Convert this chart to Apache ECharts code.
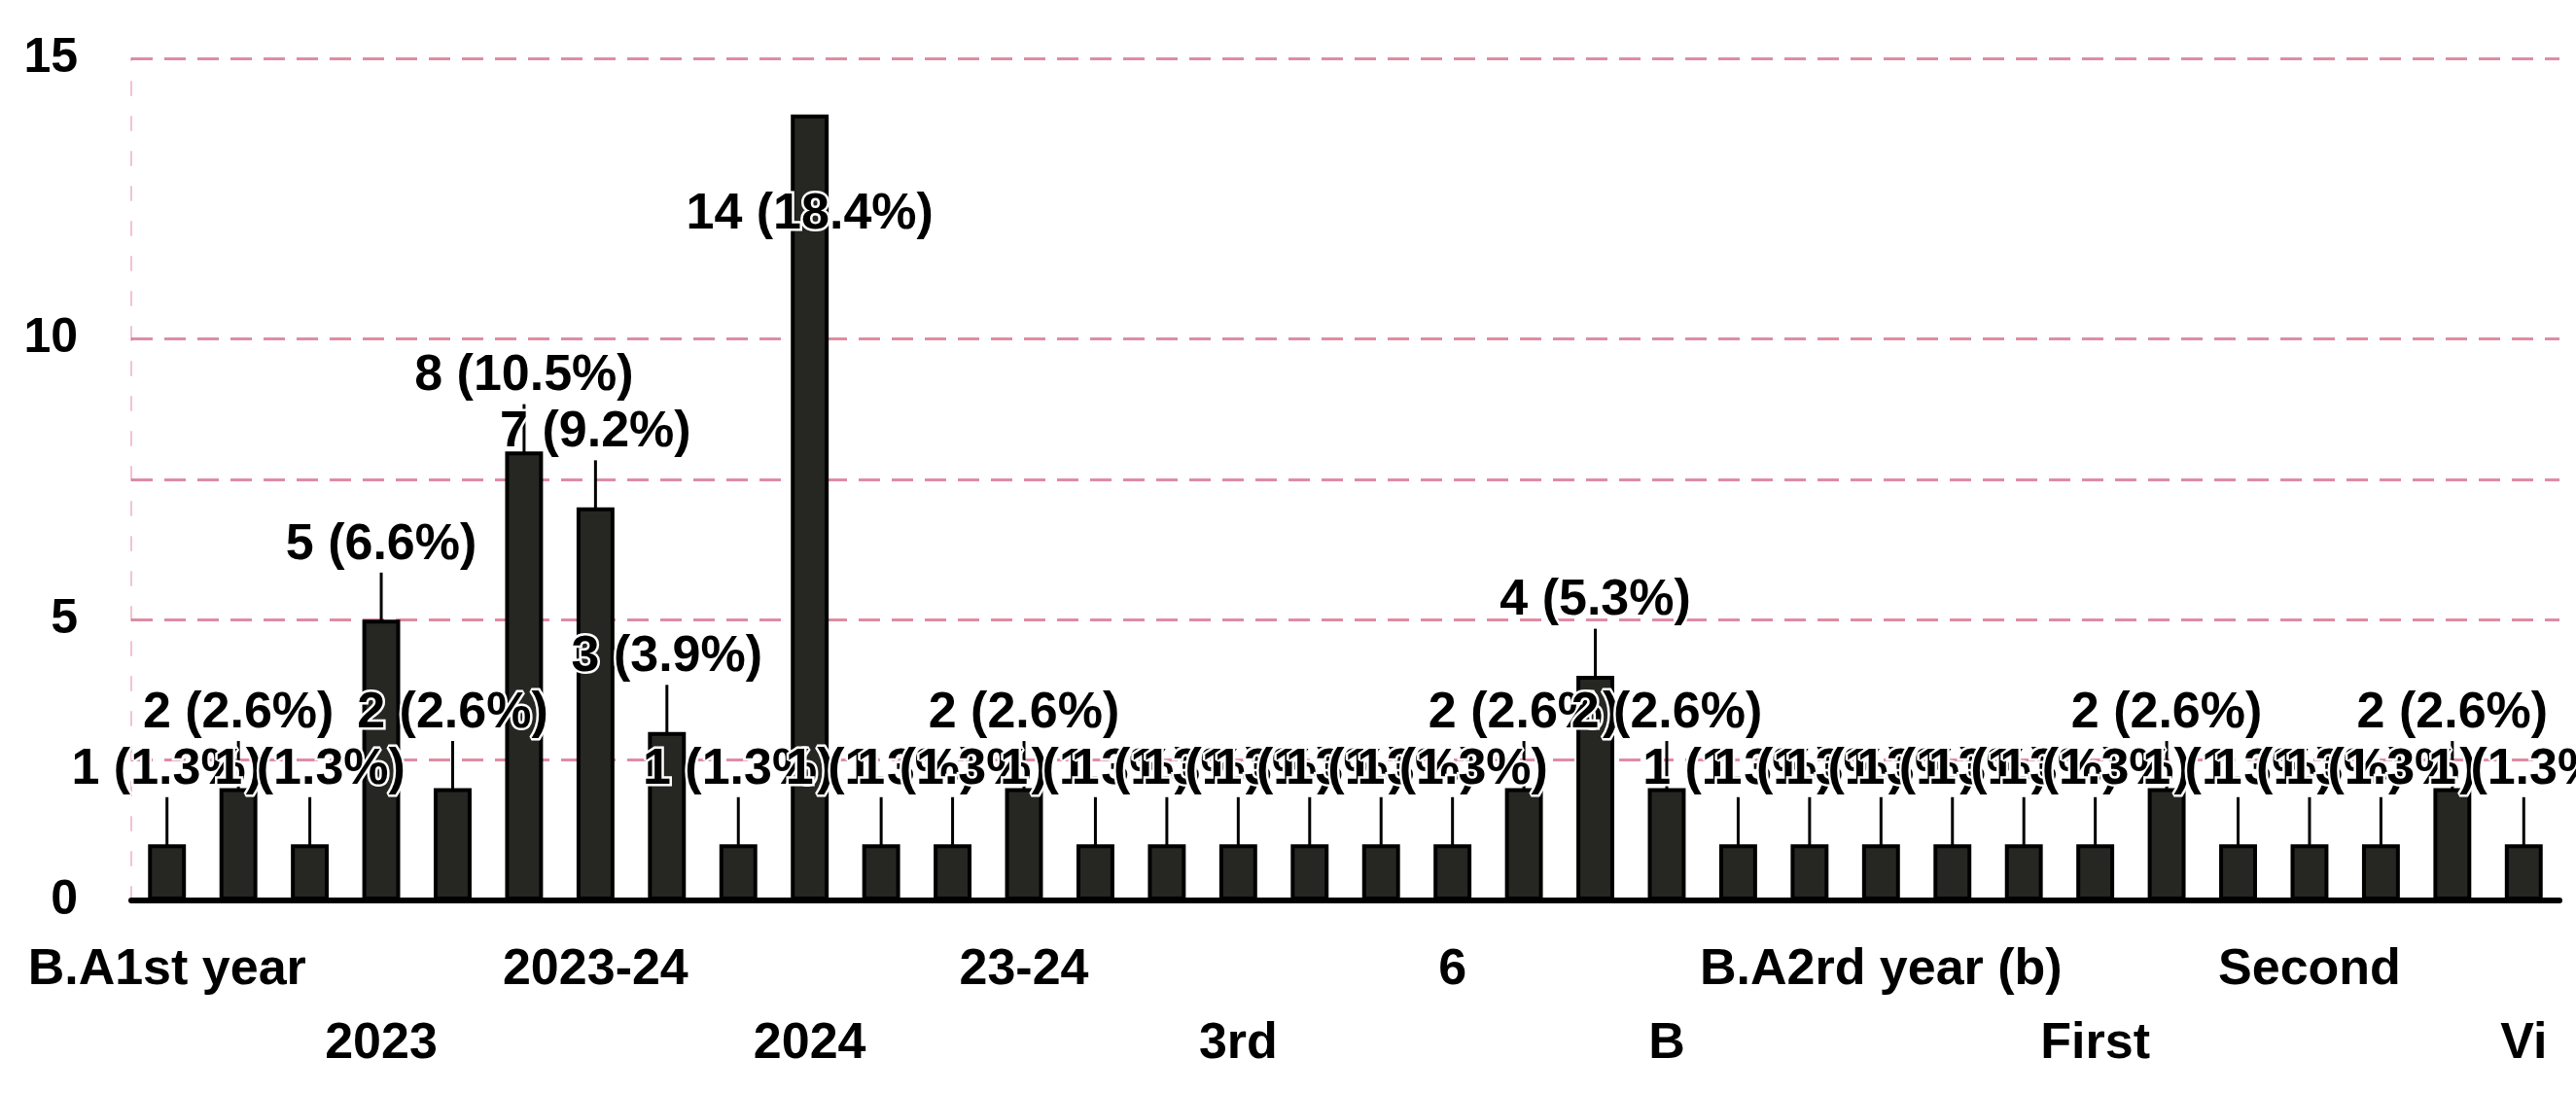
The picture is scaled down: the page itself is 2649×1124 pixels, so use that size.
<!DOCTYPE html>
<html>
<head>
<meta charset="utf-8">
<script src="https://cdn.jsdelivr.net/npm/echarts@6/dist/echarts.min.js"></script>
<style>
html,body{margin:0;padding:0;background:#ffffff;}
#chart{width:2649px;height:1124px;}
</style>
</head>
<body>
<div id="chart"></div>
<script>
// Category names (only every third one is visible on the axis)
const categories = [
  "B.A1st year", "Group 2", "Group 3", "2023", "Group 5", "Group 6",
  "2023-24", "Group 8", "Group 9", "2024", "Group 11", "Group 12",
  "23-24", "Group 14", "Group 15", "3rd", "Group 17", "Group 18",
  "6", "Group 20", "Group 21", "B", "Group 23", "Group 24",
  "B.A2rd year (b)", "Group 26", "Group 27", "First", "Group 29", "Group 30",
  "Second", "Group 32", "Group 33", "Vi"
];
// Counts per category
const counts = [
  1, 2, 1, 5, 2, 8, 7, 3, 1, 14, 1, 1, 2, 1, 1, 1, 1,
  1, 1, 2, 4, 2, 1, 1, 1, 1, 1, 1, 2, 1, 1, 1, 2, 1
];
// Value axis
const yMin = 0;
const yMax = 15;
const yStep = 2.5;
const yLabelValues = [0, 5, 10, 15];
const gridValues = [2.5, 5, 7.5, 10, 15];

const total = counts.reduce((a, b) => a + b, 0);
const maxCount = Math.max.apply(null, counts);
const FONT = '"Liberation Sans", Arial, sans-serif';

// split line colours, one per tick (0, 2.5, 5, ... 15)
const tickVals = [];
for (let v = yMin; v <= yMax + 1e-9; v += yStep) tickVals.push(v);
const splitColors = tickVals.map(v =>
  gridValues.some(g => Math.abs(g - v) < 1e-9) ? 'rgba(195,45,90,0.55)' : 'rgba(0,0,0,0)'
);

const chart = echarts.init(document.getElementById('chart'), null, {renderer: 'canvas'});
chart.setOption({
  backgroundColor: '#ffffff',
  animation: false,
  grid: {left: 135, right: 17, top: 60, bottom: 198, containLabel: false},
  xAxis: {
    type: 'category',
    data: categories,
    axisLine: {show: true, lineStyle: {color: '#000', width: 6}},
    axisTick: {show: false},
    splitLine: {show: false},
    axisLabel: {
      interval: 2,
      margin: 34,
      color: '#000',
      fontFamily: FONT,
      fontWeight: 'bold',
      fontSize: 52,
      lineHeight: 76,
      formatter: function (value, index) {
        return (index % 6 === 3) ? '\n' + value : value;
      }
    }
  },
  yAxis: {
    type: 'value',
    min: yMin,
    max: yMax,
    interval: yStep,
    axisLine: {show: true, lineStyle: {color: 'rgba(220,80,120,0.35)', width: 2, type: [14, 22]}},
    axisTick: {show: false},
    axisLabel: {
      margin: 55,
      color: '#000',
      fontFamily: FONT,
      fontWeight: 'bold',
      fontSize: 50,
      formatter: function (v) {
        return yLabelValues.indexOf(v) >= 0 ? String(v) : '';
      }
    },
    splitLine: {
      show: true,
      lineStyle: {color: splitColors, width: 3, type: [22, 12]}
    }
  },
  series: [{
    type: 'bar',
    data: counts,
    barWidth: '53%',
    itemStyle: {color: '#262622', borderColor: '#000', borderWidth: 4},
    label: {
      show: true,
      position: 'top',
      distance: 5,
      color: '#000',
      fontFamily: FONT,
      fontWeight: 'bold',
      fontSize: 52,
      textBorderColor: '#fff',
      textBorderWidth: 5,
      formatter: function (p) {
        return p.value + ' (' + (p.value / total * 100).toFixed(1) + '%)';
      }
    },
    labelLine: {show: true, lineStyle: {color: '#000', width: 3}},
    labelLayout: function (params) {
      const r = params.rect;
      const lr = params.labelRect;
      if (counts[params.dataIndex] === maxCount) {
        // the tallest bar's label sits inside the bar, below its top
        const center = lr.y + lr.height / 2;
        return {dy: r.y + 1.8 * lr.height - center};
      }
      // all other labels are lifted above their bars with a leader line
      return {dy: -46};
    }
  }]
});
</script>
</body>
</html>
